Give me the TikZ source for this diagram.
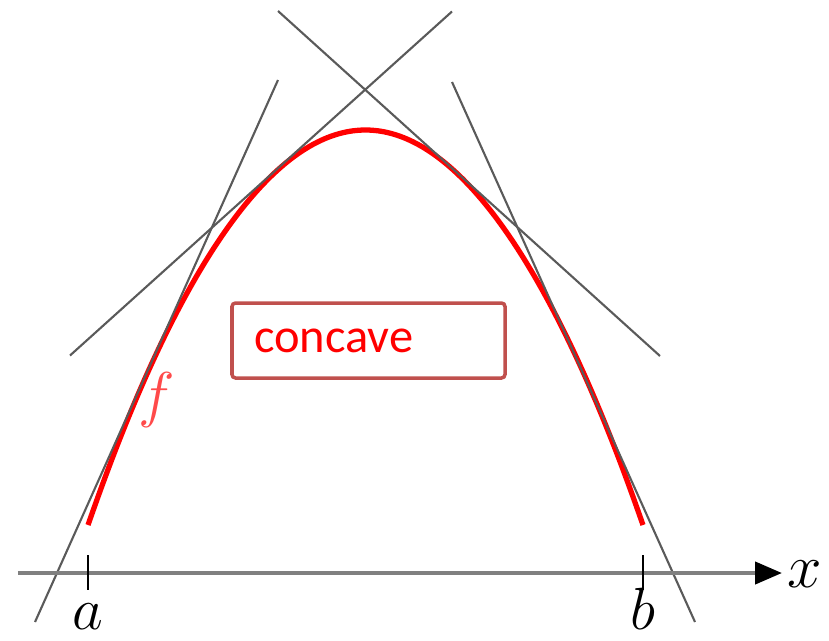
\documentclass[tikz,border=0pt]{standalone}
\usepackage{fix-cm}
\usepackage{fontspec}
\newfontfamily\calibrifont{Carlito}
\usetikzlibrary{arrows.meta}

\begin{document}
\begin{tikzpicture}
    % Define colours
    \definecolor{curveColour}{HTML}{FF0000}
    \definecolor{labelColour}{HTML}{FF4A4A}
    \definecolor{tangentColour}{HTML}{5A5A5A}
    \definecolor{axisColour}{HTML}{808080}
    \definecolor{boxColour}{HTML}{C0504D}

    % Fix canvas size
    \useasboundingbox (0,0) rectangle (8.29,6.40);

    % Define end points a and b
    \def\xa{0.88}
    \def\xb{6.43}
    \def\axisY{0.67}

    % Draw function f
    \draw[curveColour, line width=1.5pt] (\xa,1.15) parabola bend (3.655,5.10) (\xb,1.15);
    \node[text=labelColour, font=\fontsize{17.6}{20}\selectfont] (fLabel) at (1.57,2.40) {$f$};

    % Define coordinates for tangent lines
    \coordinate (L1s) at (0.35,0.18);
    \coordinate (L1e) at (2.78,5.60);
    \coordinate (L2s) at (0.70,2.845);
    \coordinate (L2e) at (4.52,6.285);
    \coordinate (L3s) at (2.78,6.29);
    \coordinate (L3e) at (6.60,2.84);
    \coordinate (L4s) at (4.52,5.58);
    \coordinate (L4e) at (6.95,0.18);

    % Draw tangent lines
    \foreach \s/\e in {L1s/L1e, L2s/L2e, L3s/L3e, L4s/L4e}
        \draw[tangentColour, line width=0.6pt] (\s) -- (\e);

    % Draw x-axis
    \draw[axisColour, line width=1.2pt, -{Triangle[length=2.7mm,width=2.2mm,black]}] (0.18,\axisY) -- (7.82,\axisY);
    \node[anchor=base, font=\fontsize{17.6}{20}\selectfont] (xLabel) at (8.05,0.53) {$x$};

    % Mark a and b
    \foreach \p/\l in {\xa/a, \xb/b} {
        \draw[line width=0.6pt] (\p,0.85) -- (\p,0.50);
        \node[anchor=base, inner sep=0pt, font=\fontsize{17}{20}\selectfont] (\l) at (\p,0.11) {$\l$};
    }

    % Draw label box
    \node[draw=boxColour, line width=1pt, rounded corners=1pt, text=curveColour,
          font=\calibrifont\fontsize{13.8}{16}\selectfont, minimum height=0.75cm,
          text width=2.29cm, inner xsep=0.22cm, align=left] (concaveBox) at (3.685,2.995) {concave};

\end{tikzpicture}
\end{document}
